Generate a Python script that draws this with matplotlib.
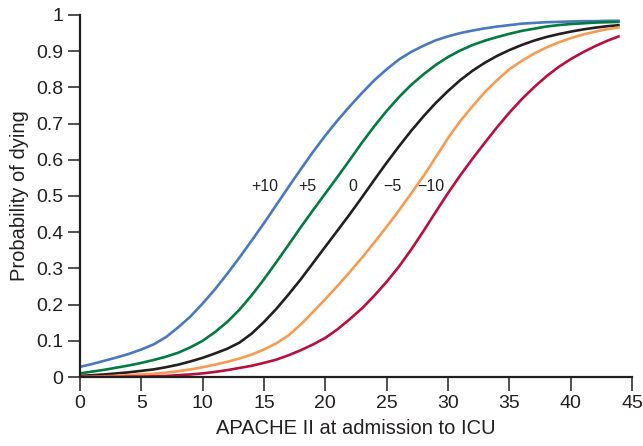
import matplotlib.pyplot as plt

plt.rcParams['font.family'] = ['Liberation Sans', 'DejaVu Sans']

# APACHE II score at admission
apache = list(range(0, 45))

# probability of dying (one list per offset)
p_plus10 = [0.028, 0.036, 0.045, 0.054, 0.064, 0.076, 0.09, 0.11, 0.137, 0.167,
            0.203, 0.242, 0.285, 0.33, 0.377, 0.425, 0.475, 0.525, 0.574, 0.622,
            0.667, 0.709, 0.748, 0.785, 0.82, 0.85, 0.877, 0.898, 0.915, 0.93,
            0.941, 0.95, 0.957, 0.963, 0.968, 0.972, 0.976, 0.978, 0.98, 0.981,
            0.982, 0.983, 0.983, 0.984, 0.984]
p_plus5 = [0.01, 0.015, 0.02, 0.026, 0.032, 0.039, 0.047, 0.056, 0.067, 0.082,
           0.1, 0.124, 0.152, 0.186, 0.226, 0.27, 0.317, 0.365, 0.414, 0.461,
           0.507, 0.553, 0.6, 0.648, 0.693, 0.735, 0.773, 0.807, 0.836, 0.862,
           0.884, 0.902, 0.917, 0.929, 0.939, 0.948, 0.956, 0.962, 0.968, 0.972,
           0.975, 0.977, 0.979, 0.98, 0.981]
p_zero = [0.003, 0.005, 0.007, 0.01, 0.013, 0.017, 0.021, 0.027, 0.034, 0.043,
          0.053, 0.065, 0.078, 0.095, 0.12, 0.152, 0.188, 0.228, 0.27, 0.315,
          0.36, 0.405, 0.45, 0.497, 0.545, 0.592, 0.637, 0.68, 0.72, 0.757,
          0.79, 0.82, 0.846, 0.868, 0.887, 0.903, 0.917, 0.929, 0.939, 0.947,
          0.954, 0.96, 0.965, 0.969, 0.972]
p_minus5 = [0.0, 0.001, 0.002, 0.003, 0.005, 0.007, 0.009, 0.012, 0.016, 0.021,
            0.027, 0.034, 0.042, 0.051, 0.062, 0.076, 0.093, 0.115, 0.145, 0.18,
            0.215, 0.252, 0.29, 0.33, 0.372, 0.415, 0.46, 0.507, 0.555, 0.607,
            0.66, 0.707, 0.748, 0.787, 0.82, 0.85, 0.873, 0.893, 0.91, 0.924,
            0.936, 0.946, 0.954, 0.961, 0.966]
p_minus10 = [0.0, 0.0, 0.0, 0.0, 0.001, 0.001, 0.002, 0.003, 0.005, 0.007,
             0.01, 0.014, 0.019, 0.025, 0.031, 0.039, 0.048, 0.06, 0.074, 0.09,
             0.108, 0.132, 0.16, 0.19, 0.225, 0.263, 0.305, 0.352, 0.403, 0.456,
             0.508, 0.557, 0.603, 0.647, 0.69, 0.73, 0.767, 0.8, 0.83, 0.856,
             0.878, 0.897, 0.914, 0.929, 0.942]

curve_labels = ['+10', '+5', '0', '\u22125', '\u221210']
label_x = [15.1, 18.5, 22.2, 25.5, 28.6]
colors = ['#4a78c0', '#007a3e', '#231f20', '#f89b52', '#b8103e']

fig = plt.figure(figsize=(6.43, 4.46), dpi=100)
ax = fig.add_axes([0.1244, 0.1547, 0.8585, 0.8117])

series = [p_plus10, p_plus5, p_zero, p_minus5, p_minus10]
for s, c in zip(series, colors):
    ax.plot(apache, s, color=c, lw=1.9, solid_capstyle='butt')

for lab, lx in zip(curve_labels, label_x):
    ax.text(lx, 0.527, lab, ha='center', va='center', fontsize=11.5, color='#231f20')

ax.set_xlim(0, 45)
ax.set_ylim(0, 1)
ax.set_xticks(range(0, 46, 5))
ax.set_yticks([i / 10 for i in range(11)])
ax.set_yticklabels(['0'] + ['0.%d' % i for i in range(1, 10)] + ['1'])

for side in ['top', 'right']:
    ax.spines[side].set_visible(False)
for side in ['left', 'bottom']:
    ax.spines[side].set_linewidth(1.6)
    ax.spines[side].set_color('#231f20')
    ax.spines[side].set_zorder(5)

ax.tick_params(axis='y', length=9, width=1.1, color='#231f20', labelsize=14,
               labelcolor='#231f20', pad=3)
ax.tick_params(axis='x', length=10, width=1.1, color='#231f20', labelsize=14,
               labelcolor='#231f20', pad=3)

ax.set_xlabel('APACHE II at admission to ICU', fontsize=14.5, color='#231f20', labelpad=5)
ax.set_ylabel('Probability of dying', fontsize=14.5, color='#231f20', labelpad=5)

fig.savefig('out.png', dpi=100)
